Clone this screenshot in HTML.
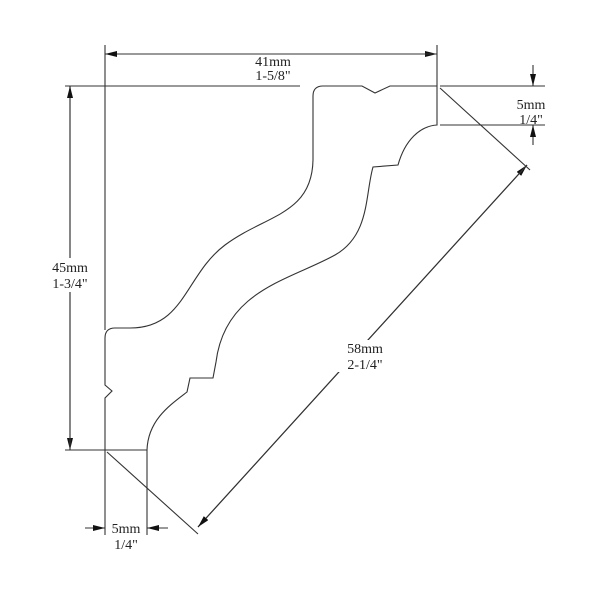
<!DOCTYPE html><html><head><style>body{margin:0;background:#fff}</style></head><body>
<svg width="600" height="600" viewBox="0 0 600 600" xmlns="http://www.w3.org/2000/svg">
<defs><marker id="a" markerWidth="12" markerHeight="6" refX="12" refY="3" orient="auto" markerUnits="userSpaceOnUse"><path d="M0,0 L12,3 L0,6Z" fill="#111"/></marker></defs>
<g fill="none" stroke="#333" stroke-width="1.1">
<path d="M437,86 L390,86 L375,93 L362,86 L323,86 Q313,86 313,96 L313,160 C312,215 265,215 225,245 C185,275 185,328 130,328 L115,328 Q105,328 105,338 L105,385 L112,391 L105,398 L105,450 L147,450 C148,420 170,405 187,392 L190,378 L213,378 L216,362 C225,290 290,280 335,255 C370,235 365,195 373,167 L398,165 C405,140 420,126 437,125 Z"/>
<line x1="105" y1="45" x2="105" y2="330"/>
<line x1="437" y1="45" x2="437" y2="86"/>
<line x1="65" y1="86" x2="300" y2="86"/>
<line x1="65" y1="450" x2="105" y2="450"/>
<line x1="70" y1="86" x2="70" y2="450" marker-end="url(#a)"/>
<line x1="70" y1="450" x2="70" y2="86" marker-end="url(#a)"/>
<line x1="440" y1="86" x2="545" y2="86"/>
<line x1="440" y1="125" x2="545" y2="125"/>
<line x1="533" y1="65" x2="533" y2="86" marker-end="url(#a)"/>
<line x1="533" y1="145" x2="533" y2="125" marker-end="url(#a)"/>
<line x1="105" y1="450" x2="105" y2="535"/>
<line x1="147" y1="450" x2="147" y2="535"/>
<line x1="85" y1="528" x2="105" y2="528" marker-end="url(#a)"/>
<line x1="168" y1="528" x2="147" y2="528" marker-end="url(#a)"/>
<line x1="440" y1="88" x2="530" y2="170"/>
<line x1="107" y1="452" x2="198" y2="534"/>
<line x1="198" y1="527" x2="527" y2="165" marker-end="url(#a)"/>
<line x1="527" y1="165" x2="198" y2="527" marker-end="url(#a)"/>
<line x1="105" y1="54" x2="437" y2="54" marker-end="url(#a)"/>
<line x1="437" y1="54" x2="105" y2="54" marker-end="url(#a)"/>
</g>
<g font-family="Liberation Serif, serif" font-size="14" fill="#222" text-anchor="middle">
<rect x="40" y="258" width="58" height="34" fill="#fff"/>
<text x="70" y="272">45mm</text><text x="70" y="288">1-3/4"</text>
<text x="273" y="66">41mm</text><text x="273" y="80">1-5/8"</text>
<text x="531" y="109">5mm</text><text x="531" y="124">1/4"</text>
<text x="126" y="533">5mm</text><text x="126" y="549">1/4"</text>
<rect x="338" y="340" width="55" height="32" fill="#fff"/>
<text x="365" y="353">58mm</text><text x="365" y="369">2-1/4"</text>
</g>
</svg></body></html>
